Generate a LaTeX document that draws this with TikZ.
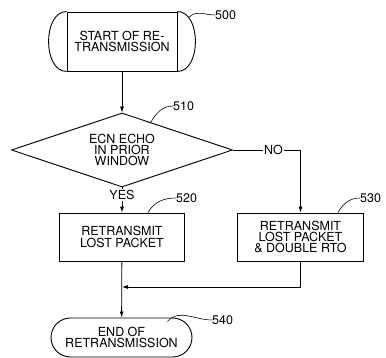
\documentclass[tikz,border=0pt]{standalone}
\usepackage{fontspec}
\setmainfont{TeX Gyre Heros}
\usetikzlibrary{arrows.meta,positioning,calc,shapes.geometric,shapes.misc}
\tikzset{
  txt/.style={font=\fontsize{12.5}{11.2}\selectfont,align=center},
  terminal/.style={txt,draw,line width=0.9pt,minimum width=110pt,minimum height=59pt,inner sep=1pt},
  ending/.style={txt,draw,line width=0.9pt,rounded rectangle,minimum width=143pt,minimum height=39pt,inner sep=1pt},
  process/.style={txt,draw,line width=0.9pt,minimum width=125pt,minimum height=48pt,inner sep=1pt},
  decision/.style={txt,draw,line width=0.9pt,diamond,aspect=3,minimum width=221pt,minimum height=74pt,inner sep=0pt},
  arrow/.style={-{Latex[length=6pt,width=4pt]},line width=0.8pt},
  leader/.style={line width=0.6pt},
  refnum/.style={txt,inner sep=0pt,anchor=west},
  edgelabel/.style={txt,fill=white,inner sep=1pt}
}

\begin{document}
\begin{tikzpicture}[x=1pt,y=-1pt]
  \useasboundingbox (0,0) rectangle (386,358);
  % flow
  \node[terminal] (start) at (122,41.5) {START OF RE-\\TRANSMISSION};
  \draw[line width=0.9pt] (start.north west) .. controls +(-24,0) and +(-24,0) .. (start.south west);
  \draw[line width=0.9pt] (start.north east) .. controls +(24,0) and +(24,0) .. (start.south east);
  \node[decision] (ecn) at (122,150) {ECN ECHO\\IN PRIOR\\WINDOW};
  \node[process] (rt) at (122,237) {RETRANSMIT\\LOST PACKET};
  \node[process,minimum width=126pt] (rto) at (300.5,237) {RETRANSMIT\\LOST PACKET\\\& DOUBLE RTO};
  \node[ending] (end) at (121.5,337.5) {END OF\\RETRANSMISSION};
  \coordinate (join) at (rt.south |- 0,287);
  \draw[arrow] (start) -- (ecn);
  \draw[arrow] (ecn) -- node[edgelabel,pos=0.3]{YES} (rt);
  \draw[arrow] (ecn.east) -| node[edgelabel,pos=0.3]{NO} (rto);
  \draw[arrow] (rt) -- (end);
  \draw[arrow] (rto.south) |- (join);
  % reference numbers
  \node[refnum] (n500) at (215,15) {500};
  \node[refnum] (n510) at (173,106) {510};
  \node[refnum] (n520) at (176,198) {520};
  \node[refnum] (n530) at (360,198) {530};
  \node[refnum] (n540) at (212,320) {540};
  \coordinate (p500) at ($(start.north east)+(11.5,6)$);
  \coordinate (p510) at ($(ecn.north)!0.26!(ecn.east)$);
  \coordinate (p520) at ($(rt.north east)+(-37,0)$);
  \coordinate (p530) at ($(rto.north east)+(-26,0)$);
  \coordinate (p540) at ($(end.north east)+(-5,4)$);
  \draw[leader] (p500) to[out=50,in=180] (n500.west);
  \draw[leader] (p510) to[out=60,in=180] (n510.west);
  \draw[leader] (p520) to[out=60,in=180] (n520.west);
  \draw[leader] (p530) to[out=60,in=180] (n530.west);
  \draw[leader] (p540) to[out=50,in=180] (n540.west);
\end{tikzpicture}
\end{document}
